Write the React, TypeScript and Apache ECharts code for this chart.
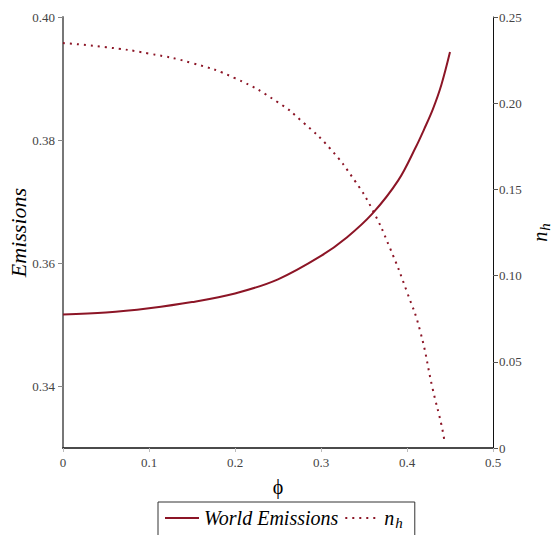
import React, { useEffect, useRef } from "react";
import * as echarts from "echarts";

const emisPhi = [0, 0.05, 0.1, 0.15, 0.2, 0.25, 0.3, 0.33, 0.36, 0.39, 0.41, 0.42, 0.43, 0.44, 0.45];
const emisVal = [0.3517, 0.352, 0.3527, 0.3537, 0.3551, 0.3574, 0.3612, 0.3642, 0.3681, 0.3735, 0.3788, 0.3818, 0.385, 0.389, 0.3943];

const nhPhi = [0, 0.05, 0.1, 0.15, 0.2, 0.25, 0.28, 0.31, 0.34, 0.36, 0.38, 0.4, 0.415, 0.43, 0.44, 0.444];
const nhVal = [0.2349, 0.2325, 0.2288, 0.2233, 0.2145, 0.2005, 0.1885, 0.174, 0.1545, 0.138, 0.1162, 0.0905, 0.0684, 0.034, 0.0135, 0.0027];

const leftTicks = [0.34, 0.36, 0.38, 0.4];
const rightTicks = [0, 0.05, 0.1, 0.15, 0.2, 0.25];
const xTicks = [0, 0.1, 0.2, 0.3, 0.4, 0.5];

const SERIF = "Liberation Serif";
const RED = "#8c1526";

export default function App() {
  const ref = useRef<HTMLDivElement>(null);
  useEffect(() => {
    if (!ref.current) return;
    const chart = echarts.init(ref.current, null, { renderer: "svg" });
    const subRich = (big: number, small: number, pad: number) => ({
      n: { fontFamily: SERIF, fontStyle: "italic", fontSize: big, color: "#000" },
      h: { fontFamily: SERIF, fontStyle: "italic", fontSize: small, color: "#000", padding: [pad, 0, 0, 1] },
    });
    chart.setOption({
      animation: false,
      backgroundColor: "#fff",
      grid: { left: 63, right: 64, top: 17, bottom: 87, containLabel: false, outerBoundsMode: "none" },
      legend: {
        left: 158,
        top: 502,
        orient: "horizontal",
        itemWidth: 34,
        itemHeight: 14,
        itemGap: 6,
        borderColor: "#333",
        borderWidth: 1,
        padding: [6, 12, 14, 6],
        itemStyle: { opacity: 0 },
        textStyle: {
          fontFamily: SERIF,
          fontStyle: "italic",
          fontSize: 20,
          color: "#000",
          rich: subRich(20, 15, 10),
        },
        formatter: (name: string) => (name === "n_h" ? "{n|n}{h|h}" : name),
        data: ["World Emissions", "n_h"],
      },
      xAxis: {
        type: "value",
        min: 0,
        max: 0.5,
        interval: 0.1,
        name: "\u03D5",
        nameLocation: "middle",
        nameGap: 29,
        nameMoveOverlap: false,
        nameTextStyle: { fontFamily: SERIF, fontSize: 20, color: "#000" },
        axisLine: { show: true, lineStyle: { color: "#111", width: 1.5 } },
        axisTick: { show: true, length: 4, lineStyle: { color: "#bbb" } },
        axisLabel: {
          fontFamily: SERIF,
          fontSize: 13,
          color: "#444",
          margin: 8,
          customValues: xTicks,
          formatter: (v: number) => (v === 0 ? "0" : v.toFixed(1)),
        },
        splitLine: { show: false },
      },
      yAxis: [
        {
          type: "value",
          position: "left",
          min: 0.33,
          max: 0.4,
          name: "Emissions",
          nameLocation: "middle",
          nameRotate: 90,
          nameGap: 34,
          nameMoveOverlap: false,
          nameTextStyle: { fontFamily: SERIF, fontStyle: "italic", fontSize: 22, color: "#000" },
          axisLine: { show: true, lineStyle: { color: "#777", width: 2 } },
          axisTick: { show: true, length: 5, lineStyle: { color: "#888" }, customValues: leftTicks },
          axisLabel: {
            fontFamily: SERIF,
            fontSize: 13,
            color: "#444",
            margin: 8,
            customValues: leftTicks,
            formatter: (v: number) => v.toFixed(2),
          },
          splitLine: { show: false },
        },
        {
          type: "value",
          position: "right",
          min: 0,
          max: 0.25,
          interval: 0.05,
          name: "{n|n}{h|h}",
          nameLocation: "middle",
          nameRotate: 90,
          nameGap: 34,
          nameMoveOverlap: false,
          nameTextStyle: { rich: subRich(20, 15, 10) },
          axisLine: { show: true, lineStyle: { color: "#111", width: 1 } },
          axisTick: { show: true, length: 5, lineStyle: { color: "#555" } },
          axisLabel: {
            fontFamily: SERIF,
            fontSize: 13,
            color: "#444",
            margin: 6,
            customValues: rightTicks,
            formatter: (v: number) => (v === 0 ? "0" : v.toFixed(2)),
          },
          splitLine: { show: false },
        },
      ],
      series: [
        {
          name: "World Emissions",
          type: "line",
          yAxisIndex: 0,
          smooth: 0.35,
          symbol: "none",
          lineStyle: { color: RED, width: 2 },
          itemStyle: { color: RED },
          data: emisPhi.map((p, i) => [p, emisVal[i]]),
        },
        {
          name: "n_h",
          type: "line",
          yAxisIndex: 1,
          smooth: true,
          symbol: "none",
          lineStyle: { color: RED, width: 2, type: [2, 5] },
          itemStyle: { color: RED },
          data: nhPhi.map((p, i) => [p, nhVal[i]]),
        },
      ],
    });
    return () => chart.dispose();
  }, []);
  return (
    <div
      ref={ref}
      style={{ position: "fixed", left: 0, top: 0, width: 557, height: 535, background: "#fff" }}
    />
  );
}
